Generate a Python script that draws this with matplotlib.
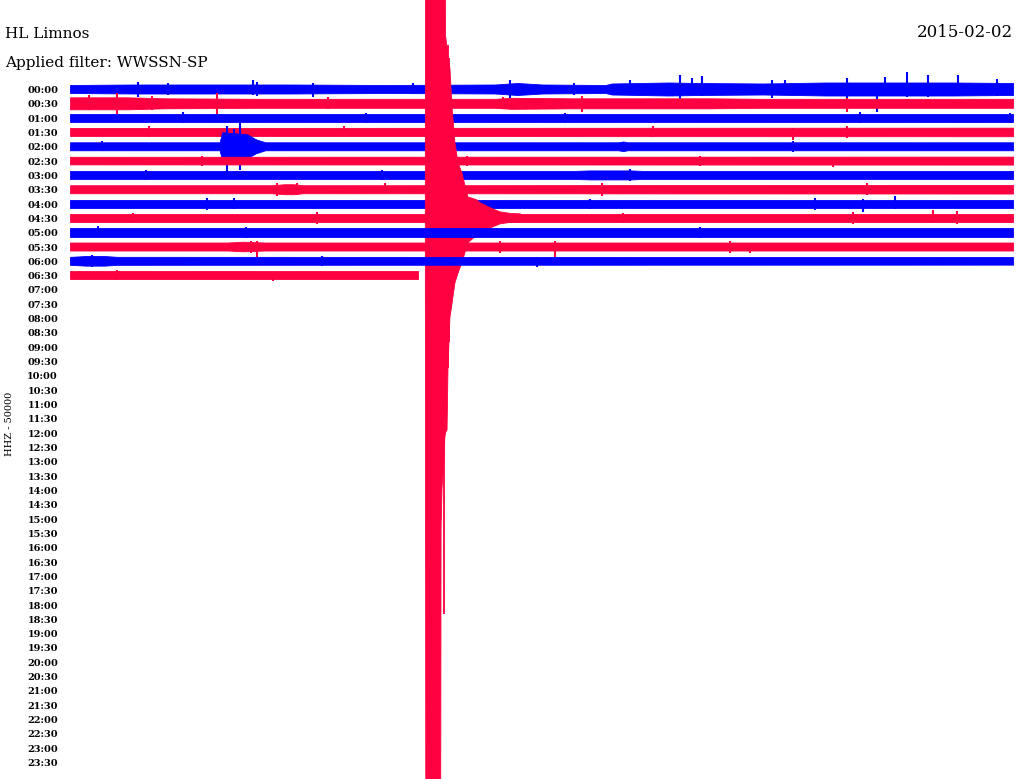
import matplotlib
matplotlib.use("Agg")
import matplotlib.pyplot as plt
import matplotlib.transforms as mtransforms
import numpy as np

# ---------------- data ----------------
station = "HL Limnos"
date_str = "2015-02-02"
filter_str = "Applied filter: WWSSN-SP"
channel_str = "HHZ - 50000"

row_labels = ["%02d:%02d" % (h, m) for h in range(24) for m in (0, 30)]
trace_colors = ["#0000ff", "#ff0040"]

# envelope knots per row: times (minutes within row) and half-widths (amplitude units)
env_t = [
    [0, 2, 5, 7, 10, 13.5, 14.2, 15, 17.0, 17.2, 19, 20, 22, 24, 26, 28, 29.94],
    [0, 1.8, 3, 6, 10, 13.5, 14, 16, 16.5, 18.5, 20.3, 22, 25, 29.94],
    [0, 29.94],
    [0, 29.94],
    [0, 4.75, 4.83, 5.62, 5.9, 6.2, 17.4, 17.56, 17.7, 29.94],
    [0, 29.94],
    [0, 16, 16.5, 17.8, 18.2, 29.94],
    [0, 6.4, 6.8, 7.1, 7.4, 29.94],
    [0, 29.94],
    [0, 29.94],
    [0, 29.94],
    [0, 5.0, 5.5, 6.2, 29.94],
    [0, 0.5, 1.1, 1.5, 29.94],
    [0, 11.05],
]
env_hw = [
    [4, 4.5, 4.5, 4.5, 4, 4.5, 6, 4.5, 4, 5.5, 6.5, 6, 5.5, 6.5, 6.5, 6.5, 6],
    [6, 6, 5, 4.5, 4.5, 4.5, 5.5, 5, 5, 5, 5, 4.5, 4.5, 4.5],
    [4, 4],
    [4, 4.3],
    [4, 4, 14, 12, 7, 4, 4, 4.8, 4, 4],
    [3.8, 4],
    [4, 4, 4.5, 4.5, 4, 4],
    [4, 4, 5, 5, 4, 4.3],
    [4, 4],
    [4, 4],
    [4.3, 4.3],
    [4, 4, 4.8, 4, 4],
    [4, 4.8, 4.8, 4, 3.8],
    [4, 4],
]
# isolated spikes per row: (time, up, down)
spikes = [
    [(2.16, 7, 8), (5.81, 9, 6), (5.95, 7, 7), (7.71, 6, 8), (13.97, 9, 9), (17.78, 9, 6),
     (19.37, 14, 11), (19.75, 11, 6), (20.06, 13, 7), (22.29, 9, 9), (22.70, 9, 6),
     (24.67, 11, 9), (25.62, 6, 23), (25.87, 12, 7), (26.57, 17, 8), (27.24, 14, 8),
     (28.19, 14, 7), (29.43, 10, 7), (3.1, 6, 6), (10.9, 6, 5), (16.0, 6, 6)],
    [(1.49, 10, 12), (4.67, 10, 12), (13.75, 6, 6), (16.25, 7, 9), (24.67, 5, 9),
     (0.6, 8, 7), (2.6, 7, 7), (8.2, 6, 6)],
    [(25.08, 5.5, 5.5), (29.84, 5, 5), (3.6, 5.5, 5), (9.4, 5, 5), (15.7, 5, 5)],
    [(22.95, 4, 8), (24.67, 6, 6), (2.5, 6, 5), (8.7, 5.5, 5.5), (18.5, 5.5, 5.5)],
    [(4.98, 20, 26), (5.40, 26, 24), (5.20, 17, 14), (22.95, 5.5, 5.5), (1.0, 5.5, 5)],
    [(24.22, 3, 6), (4.2, 5, 5), (12.6, 5, 5), (20.0, 5, 5)],
    [(17.78, 6, 6), (9.9, 5, 5), (2.4, 5, 5)],
    [(6.57, 6, 7), (7.2, 6, 6), (10.0, 6, 3), (25.3, 6, 6), (16.9, 6, 7)],
    [(4.35, 6, 6), (5.2, 5.5, 5.5), (16.51, 5, 5), (23.65, 6, 6), (25.17, 5, 8), (26.19, 8, 5)],
    [(7.84, 6, 6), (17.56, 5, 5), (24.86, 6, 6), (27.40, 8, 5), (28.16, 7, 6), (2.0, 5, 5)],
    [(0.89, 6, 3), (5.6, 5.5, 5.5), (20.0, 5.5, 5.5)],
    [(5.94, 6, 12), (5.75, 6, 6), (13.65, 6, 6), (15.40, 6, 11), (20.95, 6, 6), (21.59, 3, 6)],
    [(14.83, 4, 6), (0.7, 6, 6), (8.0, 5, 5)],
    [(6.44, 3, 6), (1.5, 5, 5)],
]

# earthquake in the 04:30 row
quake_row = 9
quake_t = [11.28, 11.30, 11.76, 11.78, 11.81, 11.86, 11.90, 11.92, 11.97, 12.00, 12.06,
           12.13, 12.22, 12.32, 12.44, 12.63, 12.92, 13.02, 13.42, 13.65, 13.97, 14.3]
quake_up = [3, 800, 800, 800, 800, 800, 800, 183, 170, 160, 150,
            110, 75, 55, 45, 21, 18, 15, 9, 6, 4.5, 4]
quake_down = [3, 800, 800, 311, 270, 250, 220, 215, 212, 150, 100,
              85, 65, 55, 45, 25, 17, 15, 9, 6, 4.5, 4]
quake_spikes = [(11.873, 800, 396), (12.03, 160, 124), (11.99, 173, 150), (12.09, 120, 90)]

# ---------------- style ----------------
W, H = 1019, 779
row_px = 14.32          # pixel spacing between rows
first_row_px = 89.0     # y pixel of first row centre
x0_px, x1_px = 70, 1015

fig = plt.figure(figsize=(W / 100, H / 100), dpi=100)
fig.patch.set_facecolor("white")
ax = fig.add_axes([x0_px / W, 0, (x1_px - x0_px) / W, 1])
ax.set_xlim(0, 30)
ax.set_ylim((H - first_row_px) / row_px, -first_row_px / row_px)
ax.axis("off")

s = 1.0 / row_px  # amplitude units (pixels) -> row units

for i in range(len(env_t)):
    c = trace_colors[i % 2]
    t = np.array(env_t[i], dtype=float)
    hw = np.array(env_hw[i], dtype=float)
    z = 2 + i
    ax.fill_between(t, i - hw * s, i + hw * s, color=c, lw=0.6, zorder=z)
    if spikes[i]:
        st, su, sd = zip(*spikes[i])
        ax.vlines(st, i - np.array(su) * s, i + np.array(sd) * s, color=c, lw=1.5, zorder=z)
    if i == quake_row:
        qt = np.array(quake_t)
        ax.fill_between(qt, i - np.array(quake_up) * s, i + np.array(quake_down) * s,
                        color=c, lw=0.6, zorder=z)
        st, su, sd = zip(*quake_spikes)
        ax.vlines(st, i - np.array(su) * s, i + np.array(sd) * s, color=c, lw=1.3, zorder=z)

# row labels
trans = mtransforms.blended_transform_factory(fig.transFigure, ax.transData)
for i, lab in enumerate(row_labels):
    ax.text(58 / W, i + 4 / row_px, lab, transform=trans, ha="right", va="baseline",
            fontsize=7, fontweight="bold", family="DejaVu Serif", color="black")

fig.text(5 / W, 1 - 38 / H, station, ha="left", va="baseline", fontsize=11,
         family="DejaVu Serif", color="black")
fig.text(1013 / W, 1 - 37 / H, date_str, ha="right", va="baseline", fontsize=12,
         family="DejaVu Serif", color="black")
fig.text(5 / W, 1 - 67 / H, filter_str, ha="left", va="baseline", fontsize=11,
         family="DejaVu Serif", color="black")
fig.text(10 / W, 1 - 424 / H, channel_str, ha="center", va="center", rotation=90,
         fontsize=7, family="DejaVu Serif", color="black")

fig.savefig("out.png", dpi=100, facecolor="white")
